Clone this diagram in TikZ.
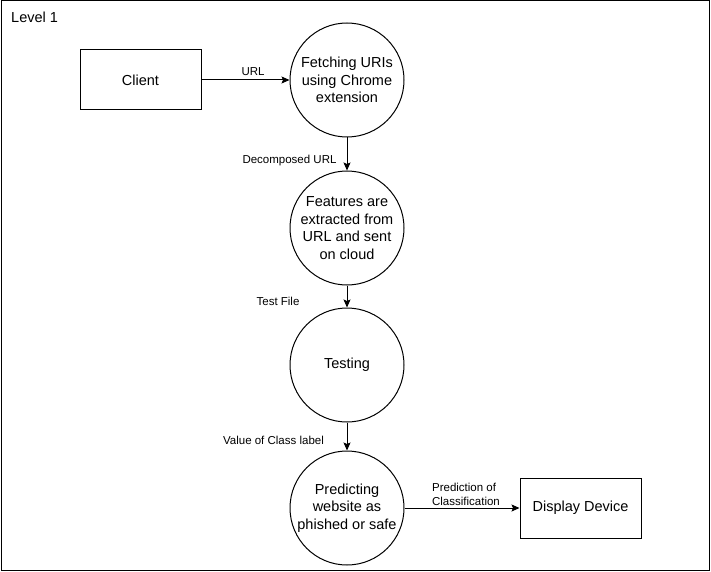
\documentclass[tikz,border=0pt]{standalone}
\usepackage{fontspec}
\setmainfont{Liberation Sans}
\usetikzlibrary{arrows.meta}
\begin{document}
\begin{tikzpicture}[x=1pt, y=1pt,
  process/.style={draw, line width=1pt, circle, minimum size=114pt, inner sep=0pt, align=center, font=\fontsize{14.5}{17.7}\selectfont},
  entity/.style={draw, line width=1pt, rectangle, minimum width=121pt, minimum height=60pt, font=\fontsize{14.5}{17}\selectfont},
  flow/.style={line width=1pt, -{Stealth[length=8pt, width=7pt, inset=1.5pt]}},
  lbl/.style={font=\fontsize{11.5}{14}\selectfont, align=center, inner sep=0pt}]
\useasboundingbox (0, 0) rectangle (711, -572);
\draw[line width=1pt] (1, -1) rectangle (709, -570);
\node[anchor=west, font=\fontsize{14.5}{17}\selectfont, inner sep=0pt] (level) at (11, -17) {Level 1};
% entities and processes
\node[entity] (client) at (140.5, -80) {Client};
\node[process] (fetch) at (347, -80) {Fetching URIs\\using Chrome\\extension};
\node[process] (extract) at (347, -228) {Features are\\extracted from\\URL and sent\\on cloud};
\node[process] (testing) at (347, -365) {Testing};
\node[process] (predict) at (347, -508) {Predicting\\website as\\phished or safe};
\node[entity] (display) at (580.5, -508) {Display Device};
% flows
\draw[flow] (client) -- (fetch);
\draw[flow] (fetch) -- (extract);
\draw[flow] (extract) -- (testing);
\draw[flow] (testing) -- (predict);
\draw[flow] (predict) -- (display);
% flow labels
\node[lbl] (urllbl) at (253, -72) {URL};
\node[lbl] (declbl) at (289.5, -161) {Decomposed URL};
\node[lbl] (testlbl) at (278, -301) {Test File};
\node[lbl] (classlbl) at (273.5, -440) {Value of Class label};
\node[lbl, align=left] (predlbl) at (466, -494.5) {Prediction of\\Classification};
\end{tikzpicture}
\end{document}
